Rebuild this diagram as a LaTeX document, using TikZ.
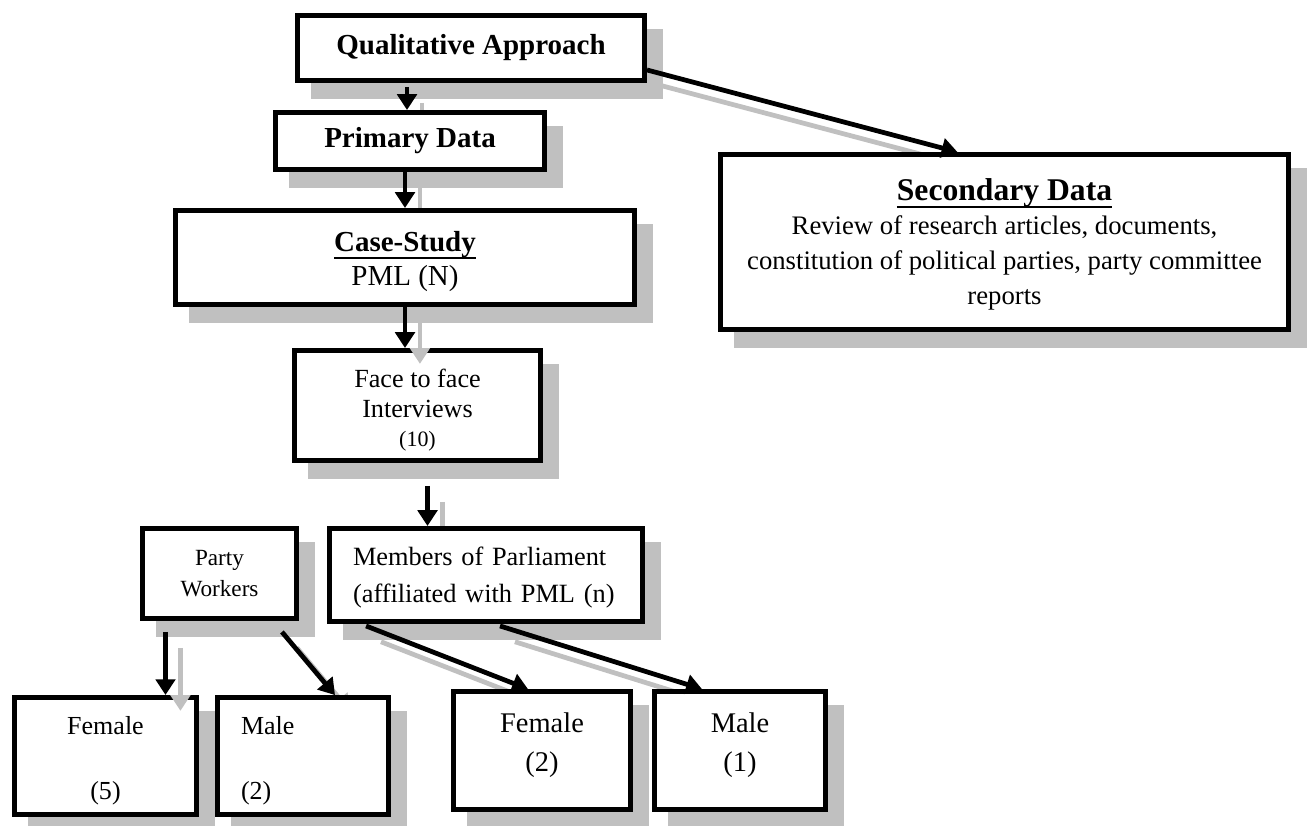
\documentclass[tikz,border=0pt]{standalone}
\usepackage{fontspec}
\setmainfont{Liberation Serif}
\usepackage{tikz}
\usetikzlibrary{positioning,calc,shadows,backgrounds,arrows.meta}
\definecolor{shadowgray}{RGB}{192,192,192}
\newcommand{\ulsolid}[1]{\setbox0\hbox{#1}\leavevmode\rlap{\rule[-4.4pt]{\wd0}{1.2pt}}\box0}
\newcommand{\padtop}[1]{\rule{0pt}{#1}}
\newcommand{\padbot}[1]{\rule[-#1]{0pt}{#1}}
\tikzstyle{box} = [rectangle, draw=black, line width=2.8pt, fill=white, inner sep=0pt, align=center, drop shadow={shadow xshift=9pt, shadow yshift=-9pt, fill=shadowgray, draw=shadowgray, opacity=1}]
\tikzstyle{arrow} = [line width=2.7pt, -{Triangle[width=11pt,length=9pt]}]
\tikzstyle{arrowshade} = [arrow, draw=shadowgray, transform canvas={xshift=8.5pt,yshift=-9pt}]

\begin{document}
\begin{tikzpicture}[x=0.02cm, y=-0.02cm]
    \useasboundingbox (0,0) rectangle (1308,825);
    % top of the tree
    \node[box, minimum width=6.94cm, minimum height=1.30cm, font=\fontsize{16.5}{20}\selectfont\bfseries] (QA) at (471,48) {Qualitative Approach};
    \node[box, minimum width=5.38cm, minimum height=1.14cm, font=\fontsize{16.5}{20}\selectfont\bfseries] (PD) at (410,141) {Primary Data};
    \node[box, minimum width=9.18cm, minimum height=1.88cm, font=\fontsize{16.5}{19.8}\selectfont] (CS) at (405,257.5) {\padtop{16pt}{\bfseries\ulsolid{Case-Study}}\\PML (N)};
    \node[box, minimum width=11.36cm, minimum height=3.5cm, font=\fontsize{15.2}{19.8}\selectfont] (SD) at (1004.5,242) {\padtop{15pt}{\fontsize{18}{20}\selectfont\bfseries\ulsolid{Secondary Data}}\\Review of research articles, documents,\\constitution of political parties, party committee\\reports};
    \node[box, minimum width=4.92cm, minimum height=2.2cm, font=\fontsize{14.9}{17}\selectfont] (FI) at (417.5,405.5) {\padtop{15.8pt}Face to face\\Interviews\\{\fontsize{12.5}{15}\selectfont (10)}};
    % second level
    \node[box, minimum width=3.08cm, minimum height=1.8cm, font=\fontsize{13.2}{18}\selectfont] (PW) at (219.5,573.5) {Party\\Workers};
    \node[box, minimum height=1.86cm, text width=5.32cm, inner xsep=0.47cm, align=left, font=\fontsize{15}{21}\selectfont] (MP) at (486,575) {\padtop{13.5pt}Members of Parliament\\(affiliated with PML (n)};
    % leaves
    \node[box, minimum width=3.64cm, minimum height=2.34cm, font=\fontsize{14.8}{18}\selectfont] (F1) at (105.5,756) {\padtop{16pt}Female\\[19pt](5)};
    \node[box, minimum height=2.34cm, text width=2.48cm, inner xsep=0.47cm, align=left, font=\fontsize{14.8}{18}\selectfont] (M1) at (303,756) {\padtop{16pt}Male\\[19pt](2)};
    \node[box, minimum width=3.54cm, minimum height=2.36cm, font=\fontsize{16.2}{22.5}\selectfont] (F2) at (542,750.5) {Female\\(2)\padbot{9.5pt}};
    \node[box, minimum width=3.42cm, minimum height=2.36cm, font=\fontsize{16.2}{22.5}\selectfont] (M2) at (740,750.5) {Male\\(1)\padbot{9.5pt}};

    \begin{scope}[on background layer]
    \draw[arrowshade] ($(PD.north |- QA.south)+(-3,4)$) -- ($(PD.north)+(-3,0)$);
    \draw[arrowshade] (CS.north |- PD.south) -- (CS.north);
    \draw[arrowshade] ($(FI.south)+(10,23)$) -- ($(FI.south |- MP.north)+(10,0)$);
    \draw[arrowshade] ($(PW.south east)+(-17,11)$) -- ($(M1.north)+(32,0)$);
    \draw[arrowshade] ($(MP.south west)+(39,2)$) -- ($(F2.north)+(-14,0)$);
    \draw[arrowshade] ($(MP.south)+(14,2)$) -- ($(M2.north)+(-38,0)$);
    \draw[arrowshade] ($(QA.south east)+(0,-13)$) -- ($(SD.north)+(-47,0)$);
    \end{scope}
    \draw[arrowshade] (CS.south) -- (CS.south |- FI.north);
    \draw[arrowshade] ($(PW.south)+(-54,11)$) -- ($(PW.south |- F1.north)+(-54,0)$);

    \draw[arrow] ($(PD.north |- QA.south)+(-3,4)$) -- ($(PD.north)+(-3,0)$);
    \draw[arrow] (CS.north |- PD.south) -- (CS.north);
    \draw[arrow] (CS.south) -- (CS.south |- FI.north);
    \draw[arrow] ($(FI.south)+(10,23)$) -- ($(FI.south |- MP.north)+(10,0)$);
    \draw[arrow] ($(PW.south)+(-54,11)$) -- ($(PW.south |- F1.north)+(-54,0)$);
    \draw[arrow] ($(PW.south east)+(-17,11)$) -- ($(M1.north)+(32,0)$);
    \draw[arrow] ($(MP.south west)+(39,2)$) -- ($(F2.north)+(-14,0)$);
    \draw[arrow] ($(MP.south)+(14,2)$) -- ($(M2.north)+(-38,0)$);
    \draw[arrow] ($(QA.south east)+(0,-13)$) -- ($(SD.north)+(-47,0)$);
\end{tikzpicture}
\end{document}
